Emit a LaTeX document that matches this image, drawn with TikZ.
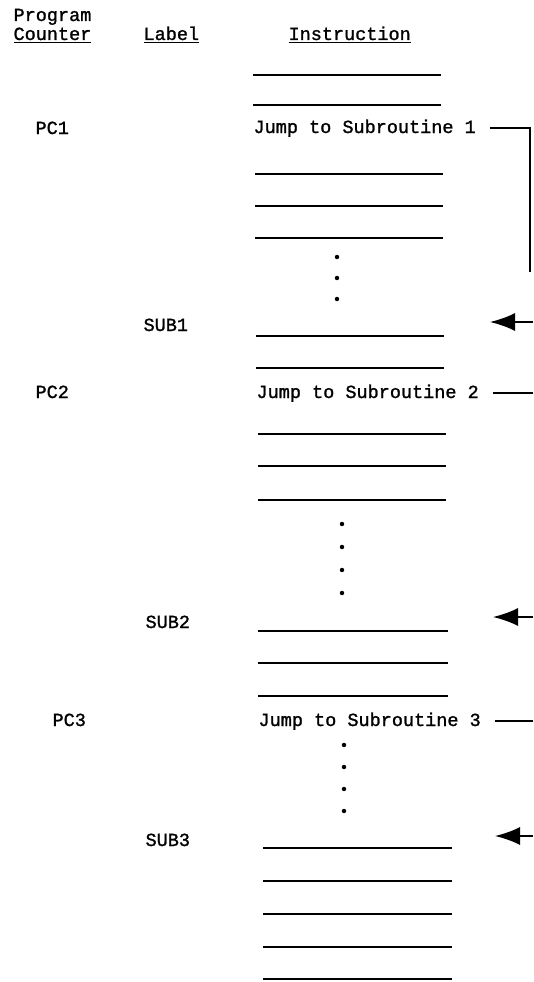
\documentclass[tikz,border=0pt]{standalone}
\usepackage{fontspec}
\setmonofont[FakeBold=1.3]{Liberation Mono}
\usetikzlibrary{arrows.meta}

\begin{document}
\begin{tikzpicture}[x=0.03cm, y=-0.03cm, line width=1pt,
  font=\ttfamily\fontsize{15.8}{18}\selectfont,
  txt/.style={anchor=base west, inner sep=0pt},
  blank/.style={line width=1.1pt},
  link/.style={line width=1.6pt, shorten <=0.4cm},
  entry/.style={line width=1.6pt, -{Latex[length=7.5mm,width=5.4mm]}},
  dot/.style={circle, fill, inner sep=0pt, minimum size=3.8pt}]

\useasboundingbox (0,0) rectangle (533,982);

% column heads
\node[txt] (hProg)  at (13,21)  {Program};
\node[txt] (hCount) at (13,40)  {\underline{Counter}};
\node[txt] (hLabel) at (143,40) {\underline{Label}};
\node[txt] (hInstr) at (288,40) {\underline{Instruction}};

% first jump and SUB1
\foreach \y in {75,105} \draw[blank] (253,\y) -- (441,\y);
\node[txt] (pc1)  at (35,134)  {PC1};
\node[txt] (jmp1) at (253,133) {Jump to Subroutine 1};
\foreach \y in {174,206,238} \draw[blank] (255,\y) -- (443,\y);
\foreach \y in {257,278,299} \node[dot] at (337,\y) {};
\node[txt] (sub1) at (143,331) {SUB1};
\foreach \y in {336,368} \draw[blank] (256,\y) -- (444,\y);

% second jump and SUB2
\node[txt] (pc2)  at (35,398)  {PC2};
\node[txt] (jmp2) at (256,398) {Jump to Subroutine 2};
\foreach \y in {434,466,500} \draw[blank] (258,\y) -- (446,\y);
\foreach \y in {524,547,570,593} \node[dot] at (342,\y) {};
\node[txt] (sub2) at (145,628) {SUB2};
\foreach \y in {631,663,696} \draw[blank] (258,\y) -- (448,\y);

% third jump and SUB3
\node[txt] (pc3)  at (52,726)  {PC3};
\node[txt] (jmp3) at (258,726) {Jump to Subroutine 3};
\foreach \y in {745,767,789,811} \node[dot] at (344,\y) {};
\node[txt] (sub3) at (145,846) {SUB3};
\foreach \y in {848,881,914,947,979} \draw[blank] (263,\y) -- (452,\y);

% jumps out to the right edge
\coordinate (rim)   at (533,0);
\coordinate (back1) at (530,272);
\draw[link] (jmp1.east) -| (back1);
\draw[link] (jmp2.east) -- (jmp2.east -| rim);
\draw[link] (jmp3.east) -- (jmp3.east -| rim);

% returns into the subroutines
\coordinate (in1)  at (533,322); \coordinate (tip1) at (490,322);
\coordinate (in2)  at (533,617); \coordinate (tip2) at (493,617);
\coordinate (in3)  at (533,836); \coordinate (tip3) at (495,836);
\draw[entry] (in1) -- (tip1);
\draw[entry] (in2) -- (tip2);
\draw[entry] (in3) -- (tip3);

\end{tikzpicture}
\end{document}
